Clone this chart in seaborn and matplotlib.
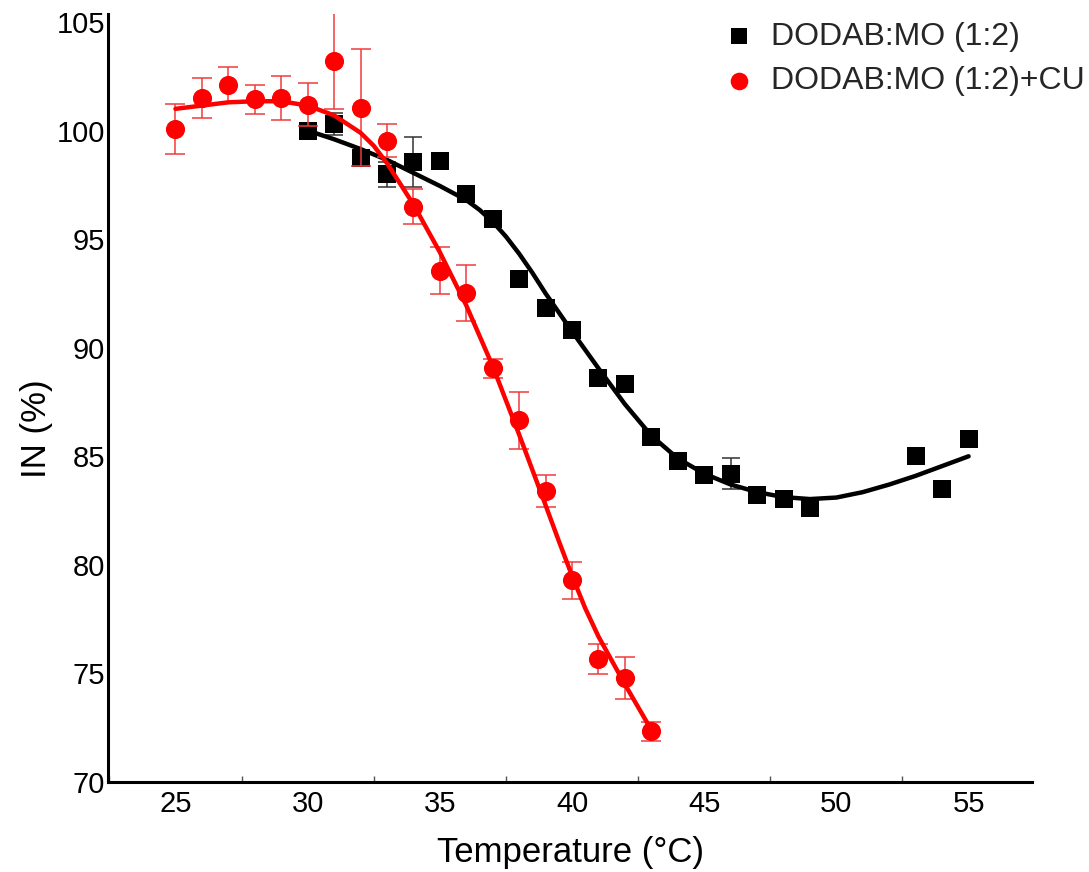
import numpy as np
import pandas as pd
import matplotlib
matplotlib.use("Agg")
import matplotlib.pyplot as plt
import seaborn as sns
from matplotlib.ticker import MultipleLocator

# ---- data ----
black_x = [30, 31, 32, 33, 34, 35, 36, 37, 38, 39, 40, 41, 42, 43, 44, 45, 46, 47, 48, 49, 53, 54, 55]
black_y = [100.0, 100.3, 98.75, 97.98, 98.55, 98.6, 97.1, 95.95, 93.17, 91.85, 90.8, 88.6, 88.35,
           85.9, 84.8, 84.15, 84.2, 83.2, 83.05, 82.6, 85.0, 83.5, 85.8]
black_err = [0.15, 0.5, 0.15, 0.57, 1.17, 0.1, 0.1, 0.1, 0.1, 0.1, 0.25, 0.1, 0.1,
             0.1, 0.1, 0.1, 0.7, 0.1, 0.1, 0.05, 0.05, 0.05, 0.05]

red_x = [25, 26, 27, 28, 29, 30, 31, 32, 33, 34, 35, 36, 37, 38, 39, 40, 41, 42, 43]
red_y = [100.06, 101.5, 102.1, 101.44, 101.5, 101.2, 103.2, 101.05, 99.53, 96.5, 93.55, 92.5,
         89.05, 86.65, 83.4, 79.3, 75.65, 74.77, 72.33]
red_err = [1.15, 0.93, 0.82, 0.68, 1.03, 0.98, 2.2, 2.7, 0.75, 0.82, 1.08, 1.29,
           0.45, 1.3, 0.72, 0.85, 0.69, 0.97, 0.44]

# fitted curves
black_fit_x = [30, 31, 32, 33, 34, 35, 36, 36.5, 37, 37.5, 38, 38.5, 39, 40, 41, 42, 43, 44, 45,
               46, 47, 48, 49, 50, 51, 52, 53, 54, 55]
black_fit_y = [100.0, 99.6, 99.15, 98.65, 98.05, 97.45, 96.8, 96.35, 95.8, 95.12, 94.33, 93.45,
               92.5, 90.75, 89.05, 87.4, 85.95, 84.9, 84.2, 83.7, 83.35, 83.12, 83.03, 83.1,
               83.35, 83.7, 84.1, 84.55, 85.0]
red_fit_x = [25, 26, 27, 28, 29, 30, 31, 32, 32.5, 33, 33.5, 34, 35, 36, 37, 38, 39, 39.5, 40,
             40.5, 41, 42, 43]
red_fit_y = [101.0, 101.15, 101.3, 101.35, 101.35, 101.15, 100.7, 99.9, 99.3, 98.5, 97.55, 96.6,
             94.4, 91.95, 89.15, 86.0, 82.75, 81.1, 79.5, 78.0, 76.7, 74.5, 72.4]

label_black = "DODAB:MO (1:2)"
label_red = "DODAB:MO (1:2)+CU"
x_ticks = [25, 30, 35, 40, 45, 50, 55]
y_ticks = [70, 75, 80, 85, 90, 95, 100, 105]

# ---- style ----
sns.set_theme(style="white")
plt.rcParams['font.family'] = ['Liberation Sans', 'DejaVu Sans']

fig = plt.figure(figsize=(10.89, 8.72), dpi=100)
ax = fig.add_axes([0.0992, 0.1032, 0.8485, 0.8808])

df_b = pd.DataFrame({"x": black_x, "y": black_y})
df_r = pd.DataFrame({"x": red_x, "y": red_y})
fit_b = pd.DataFrame({"x": black_fit_x, "y": black_fit_y})
fit_r = pd.DataFrame({"x": red_fit_x, "y": red_fit_y})

# black series
ax.errorbar(black_x, black_y, yerr=black_err, fmt='none', ecolor='#333333',
            elinewidth=1.1, capsize=6.5, capthick=1.1, zorder=2)
sns.lineplot(data=fit_b, x="x", y="y", ax=ax, color='black', linewidth=3.2,
             sort=True, zorder=3, legend=False)
sns.scatterplot(data=df_b, x="x", y="y", ax=ax, marker='s', color='black', s=150,
                edgecolor='black', linewidth=0, zorder=4, label=label_black)

# red series
ax.errorbar(red_x, red_y, yerr=red_err, fmt='none', ecolor='#f03c3c',
            elinewidth=1.1, capsize=7, capthick=1.1, zorder=5)
sns.lineplot(data=fit_r, x="x", y="y", ax=ax, color='#ff0000', linewidth=3.2,
             sort=True, zorder=6, legend=False)
sns.scatterplot(data=df_r, x="x", y="y", ax=ax, marker='o', color='#ff0000', s=190,
                edgecolor='#ff0000', linewidth=0, zorder=7, label=label_red)

ax.set_xlim(22.45, 57.4)
ax.set_ylim(70, 105.37)
ax.set_xticks(x_ticks)
ax.set_yticks(y_ticks)
ax.xaxis.set_minor_locator(MultipleLocator(2.5))

ax.tick_params(axis='x', which='major', length=0, pad=6, labelsize=21, colors='black')
ax.tick_params(axis='x', which='minor', direction='in', length=4, width=1.0, color='#555555', bottom=True)
ax.tick_params(axis='y', which='both', length=0, pad=2, labelsize=21, colors='black')

for side in ['top', 'right']:
    ax.spines[side].set_visible(False)
for side in ['left', 'bottom']:
    ax.spines[side].set_color('black')
    ax.spines[side].set_linewidth(2.2)

ax.set_xlabel("Temperature (°C)", fontsize=25, color='black', labelpad=13)
ax.set_ylabel("IN (%)", fontsize=25, color='black')
ax.yaxis.set_label_coords(-0.06, 0.46)

leg = ax.legend(loc='upper right', bbox_to_anchor=(1.078, 1.015), frameon=False,
                fontsize=23, handletextpad=0.2, handlelength=1.6, labelspacing=0.45,
                markerscale=0.92, borderaxespad=0.2)

fig.savefig("out.png", dpi=100, facecolor='white')
